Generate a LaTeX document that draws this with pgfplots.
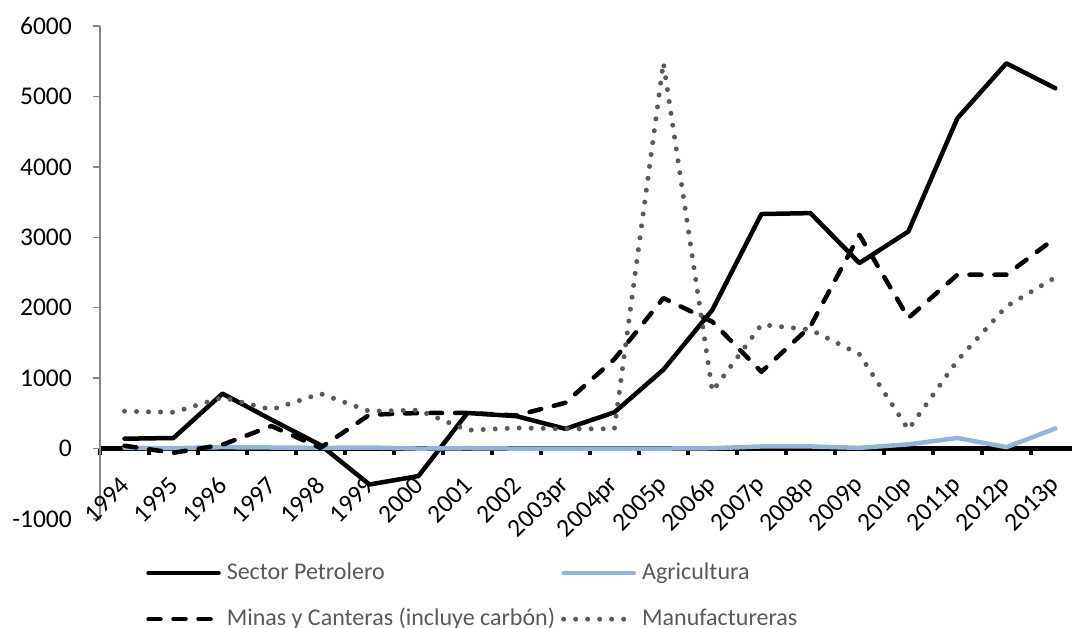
\documentclass[border=0pt]{standalone}
\usepackage{fontspec}
\setmainfont{Carlito}
\usepackage{pgfplots}
\pgfplotsset{compat=1.18}
\definecolor{agri}{HTML}{95B3D7}
\definecolor{manu}{HTML}{595959}
\definecolor{axgray}{HTML}{868686}
\definecolor{leggray}{HTML}{595959}
\begin{document}
\begin{tikzpicture}
\useasboundingbox (0,0) rectangle (1072pt,628pt);
\begin{axis}[
 at={(100pt,109pt)}, anchor=south west,
 scale only axis, width=972pt, height=493pt,
 xmin=-0.5, xmax=19.34, ymin=-1000, ymax=6000,
 axis x line*=middle, axis y line*=left,
 clip=false,
 font=\fontsize{25.5}{30}\selectfont,
 /pgf/number format/assume math mode=true,
 /pgf/number format/.cd, 1000 sep={}, /pgfplots/.cd,
 ytick={-1000,0,...,6000},
 xtick={0,...,19},
 xticklabels={1994,1995,1996,1997,1998,1999,2000,2001,2002,2003pr,2004pr,2005p,2006p,2007p,2008p,2009p,2010p,2011p,2012p,2013p},
 minor xtick={-0.5,0.5,...,18.5},
 xtick align=outside, ytick align=outside,
 major tick length=7pt, minor tick length=6pt,
 major x tick style={draw=none},
 minor x tick style={black, line width=4pt},
 ytick style={axgray, line width=1.5pt},
 x axis line style={black, line width=4.5pt},
 y axis line style={axgray, line width=1.5pt},
 yticklabel style={anchor=east, inner sep=0pt, xshift=-21pt},
 xticklabel style={xshift=0.5pt, yshift=-26pt, rotate=45, anchor=east, inner sep=0pt},
 legend columns=2,
 legend cell align=left,
 legend image code/.code={\draw[#1] (0pt,0pt) -- (70pt,0pt);},
 legend style={draw=none, fill=none, at={(axis description cs:0.0474,-0.0852)}, anchor=north west,
   inner sep=0pt, text=leggray, font=\fontsize{24}{28}\selectfont,
   row sep=22pt,
   /tikz/every odd column/.style={column sep=6pt},
   /tikz/every even column/.style={column sep=6pt},
   nodes={inner sep=0pt, text height=18pt, text depth=6pt}},
]
\addplot[black, line width=4.5pt, line join=round, line cap=round] coordinates {
(0,140)(1,150)(2,780)(3,410)(4,50)(5,-510)(6,-390)(7,505)(8,460)(9,280)
(10,515)(11,1120)(12,1970)(13,3330)(14,3343)(15,2634)(16,3082)(17,4690)(18,5470)(19,5116)};
\addlegendentry{Sector Petrolero}
\addplot[agri, line width=4.5pt, line join=round, line cap=round] coordinates {
(0,10)(1,5)(2,20)(3,15)(4,10)(5,15)(6,0)(7,5)(8,0)(9,0)
(10,0)(11,0)(12,5)(13,30)(14,30)(15,10)(16,60)(17,150)(18,20)(19,285)};
\addlegendentry{Agricultura}
\addplot[black, line width=4.5pt, line join=round, line cap=round, dash pattern=on 12pt off 13pt] coordinates {
(0,40)(1,-60)(2,55)(3,320)(4,10)(5,480)(6,505)(7,505)(8,470)(9,650)
(10,1270)(11,2137)(12,1800)(13,1090)(14,1735)(15,3035)(16,1854)(17,2468)(18,2468)(19,2989)};
\addlegendentry{Minas y Canteras (incluye carbón)}
\addplot[manu, line width=5pt, line cap=round, dash pattern=on 0pt off 12pt] coordinates {
(0,530)(1,515)(2,725)(3,553)(4,780)(5,530)(6,545)(7,260)(8,293)(9,280)
(10,280)(11,5480)(12,813)(13,1759)(14,1688)(15,1340)(16,270)(17,1250)(18,2018)(19,2430)};
\addlegendentry{Manufactureras}
\end{axis}
\end{tikzpicture}
\end{document}
